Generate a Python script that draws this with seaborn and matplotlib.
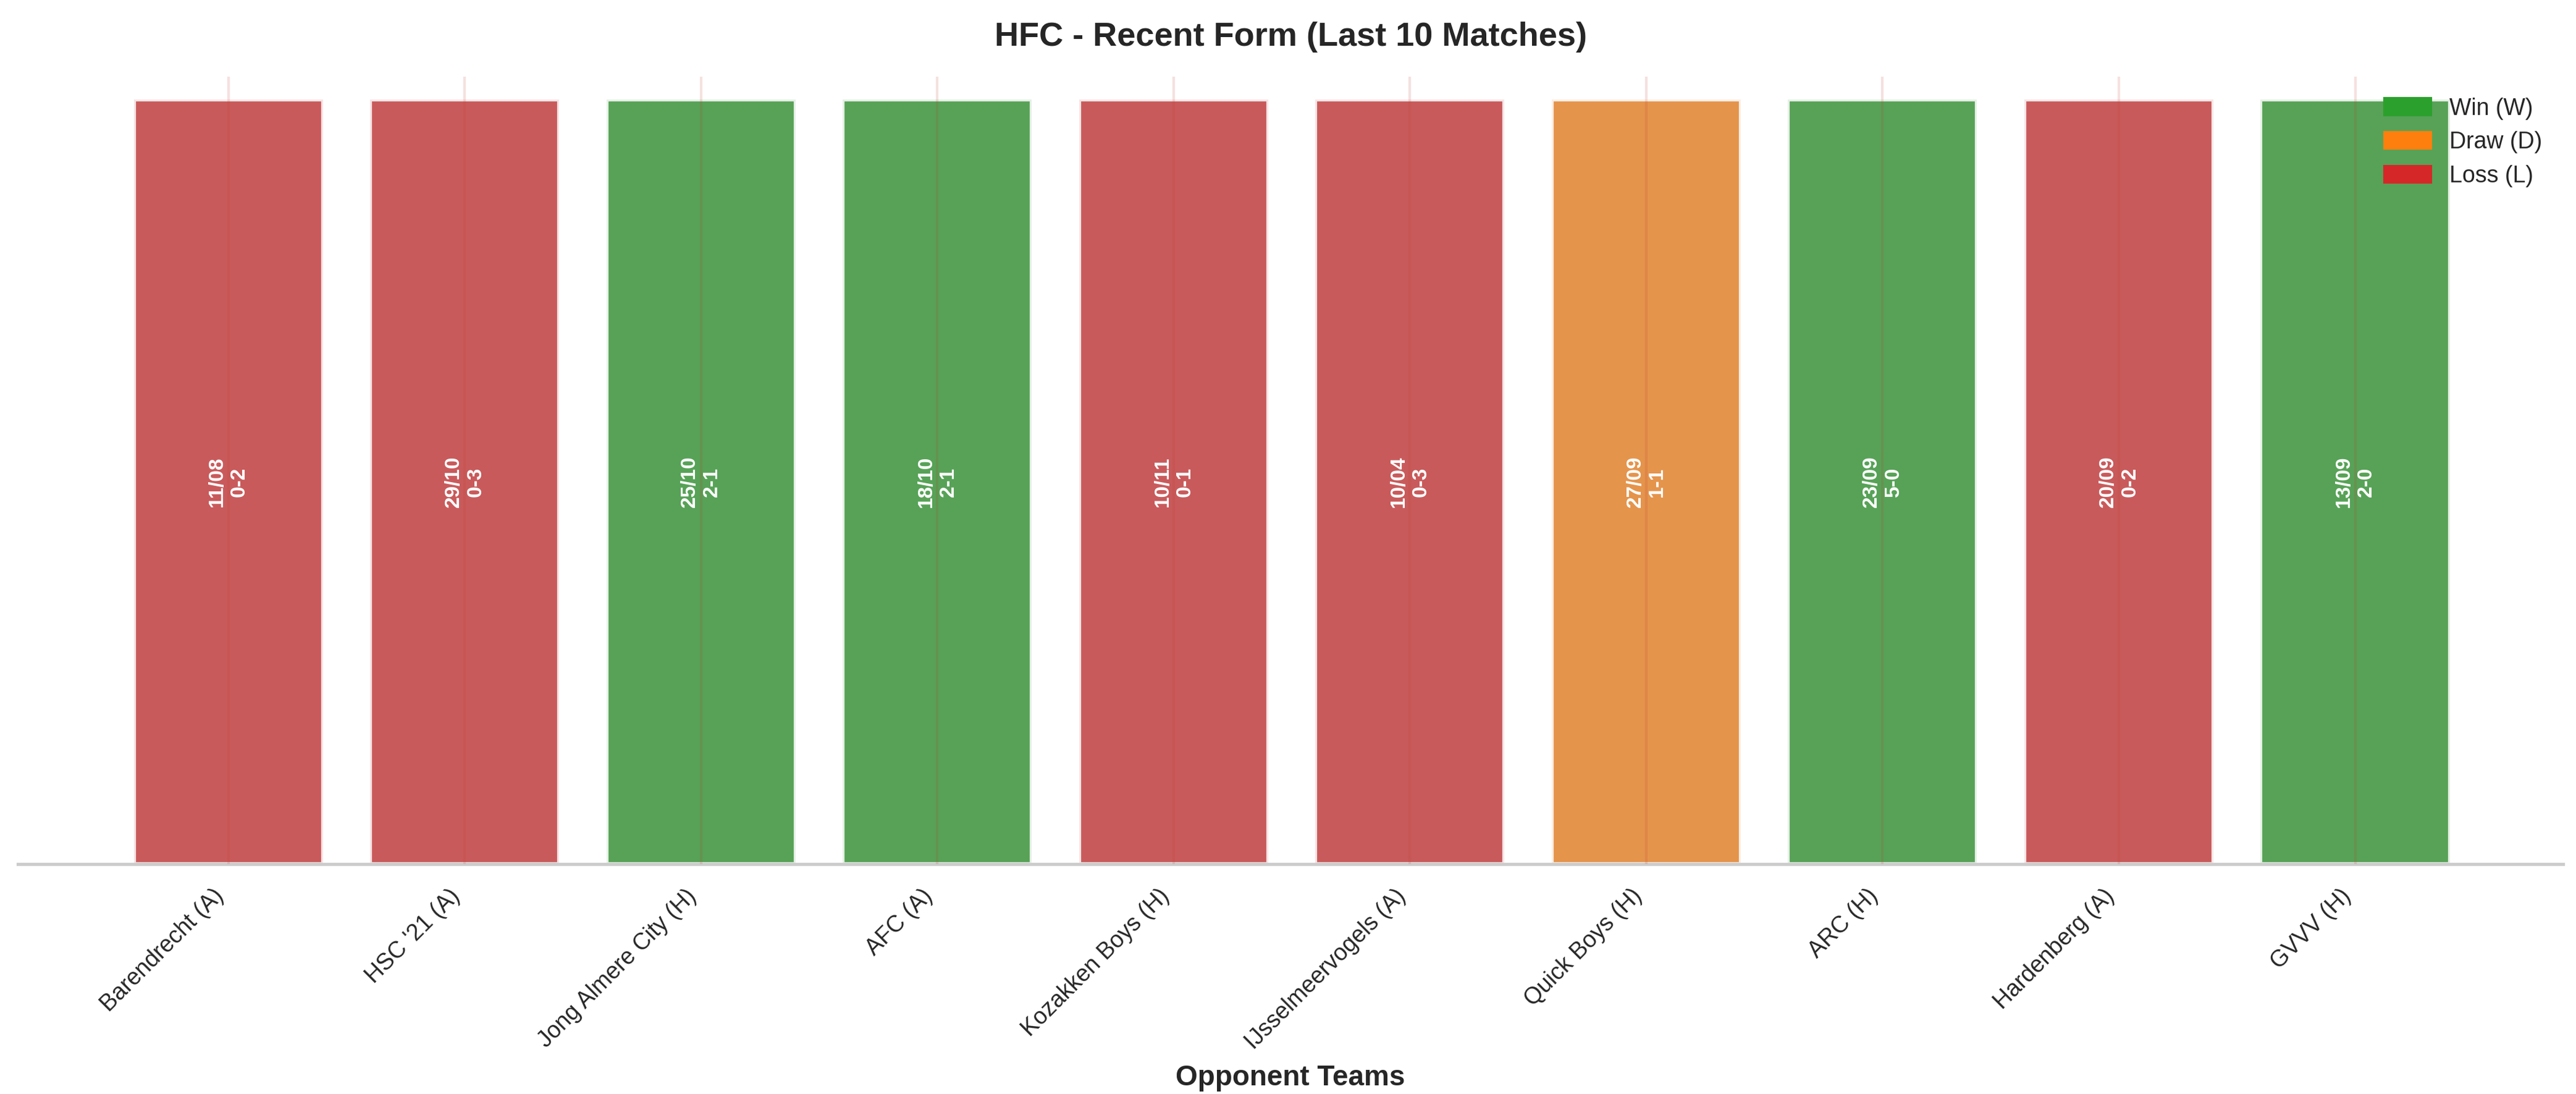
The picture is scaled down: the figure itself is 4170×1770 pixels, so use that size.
import matplotlib
matplotlib.use("Agg")
import matplotlib.pyplot as plt
import seaborn as sns
import pandas as pd
from matplotlib.patches import Patch

opponents = ["Barendrecht (A)", "HSC '21 (A)", "Jong Almere City (H)", "AFC (A)", "Kozakken Boys (H)",
             "IJsselmeervogels (A)", "Quick Boys (H)", "ARC (H)", "Hardenberg (A)", "GVVV (H)"]
dates = ["11/08", "29/10", "25/10", "18/10", "10/11", "10/04", "27/09", "23/09", "20/09", "13/09"]
scores = ["0-2", "0-3", "2-1", "2-1", "0-1", "0-3", "1-1", "5-0", "0-2", "2-0"]
results = ["L", "L", "W", "W", "L", "L", "D", "W", "L", "W"]
heights = [1] * 10

colors = {"W": "#2ca02c", "D": "#ff7f0e", "L": "#d62728"}

sns.set_theme(style="whitegrid")
plt.rcParams['font.family'] = ['Liberation Sans', 'DejaVu Sans']

df = pd.DataFrame({"opp": opponents, "h": heights, "res": results})
fig, ax = plt.subplots(figsize=(13.9, 5.9), dpi=300)
sns.barplot(data=df, x="opp", y="h", hue="res", palette=colors, dodge=False, width=0.8,
            alpha=0.85, edgecolor="white", linewidth=1.5, ax=ax, legend=False)
ax.set_axisbelow(False)
ax.grid(axis="x", color="#c0392b", alpha=0.15, linewidth=1)
ax.grid(axis="y", visible=False)
for i, (d, s) in enumerate(zip(dates, scores)):
    ax.text(i, 0.5, f"{d}\n{s}", rotation=90, ha="center", va="center", color="white",
            fontsize=8, fontweight="bold")
ax.set_xlim(-0.89, 9.88)
ax.set_ylim(0, 1.03)
ax.set_yticks([])
ax.set_ylabel("")
ax.set_xlabel("Opponent Teams", fontsize=11, fontweight="bold")
ax.set_title("HFC - Recent Form (Last 10 Matches)", fontsize=13, fontweight="bold", pad=12)
plt.setp(ax.get_xticklabels(), rotation=45, ha="right", fontsize=9)
ax.tick_params(axis="x", pad=2)
for sp in ["left", "top", "right"]:
    ax.spines[sp].set_visible(False)
ax.spines["bottom"].set_color("#cccccc")
handles = [Patch(color=colors[k], label=l) for k, l in [("W", "Win (W)"), ("D", "Draw (D)"), ("L", "Loss (L)")]]
ax.legend(handles=handles, loc="upper right", frameon=False, fontsize=9)
fig.subplots_adjust(left=0.007, right=0.995, top=0.93, bottom=0.21)
fig.savefig("out.png", dpi=300)
